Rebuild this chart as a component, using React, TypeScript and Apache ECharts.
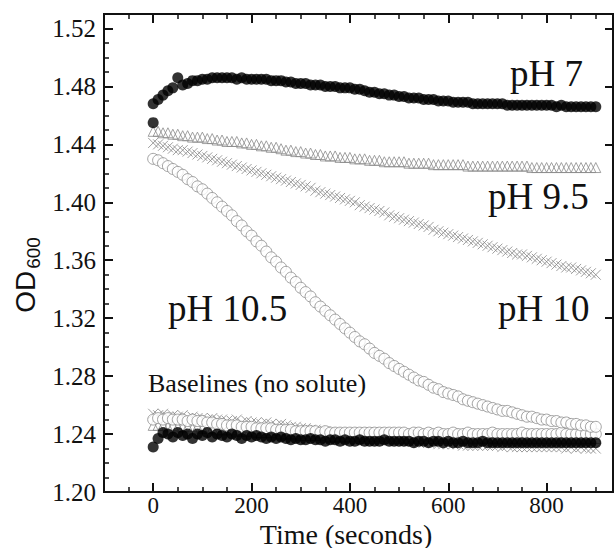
import React, { useEffect, useRef } from "react";
import * as echarts from "echarts";

// Time axis (seconds), sampled every 10 s
const times = [
  0, 10, 20, 30, 40, 50, 60, 70, 80, 90,
  100, 110, 120, 130, 140, 150, 160, 170, 180, 190,
  200, 210, 220, 230, 240, 250, 260, 270, 280, 290,
  300, 310, 320, 330, 340, 350, 360, 370, 380, 390,
  400, 410, 420, 430, 440, 450, 460, 470, 480, 490,
  500, 510, 520, 530, 540, 550, 560, 570, 580, 590,
  600, 610, 620, 630, 640, 650, 660, 670, 680, 690,
  700, 710, 720, 730, 740, 750, 760, 770, 780, 790,
  800, 810, 820, 830, 840, 850, 860, 870, 880, 890, 900,
];

const ph7Start = 1.455;
const ph7 = [
  1.468, 1.471, 1.474, 1.477, 1.479, 1.486, 1.481, 1.482, 1.484, 1.484,
  1.485, 1.485, 1.486, 1.486, 1.486, 1.486, 1.486, 1.485, 1.486, 1.485,
  1.485, 1.485, 1.485, 1.485, 1.484, 1.484, 1.484, 1.483, 1.483, 1.482,
  1.482, 1.482, 1.481, 1.481, 1.481, 1.480, 1.480, 1.480, 1.479, 1.479,
  1.479, 1.478, 1.478, 1.477, 1.476, 1.476, 1.475, 1.475, 1.474, 1.474,
  1.473, 1.473, 1.472, 1.472, 1.472, 1.471, 1.471, 1.471, 1.470, 1.470,
  1.470, 1.469, 1.469, 1.469, 1.469, 1.468, 1.468, 1.468, 1.468, 1.468,
  1.468, 1.468, 1.467, 1.467, 1.467, 1.467, 1.467, 1.467, 1.467, 1.467,
  1.467, 1.467, 1.466, 1.467, 1.466, 1.466, 1.466, 1.466, 1.466, 1.466, 1.466,
];

const ph95 = [
  1.449, 1.449, 1.448, 1.448, 1.447, 1.447, 1.446, 1.446, 1.445, 1.445,
  1.445, 1.444, 1.444, 1.443, 1.443, 1.442, 1.442, 1.442, 1.441, 1.441,
  1.440, 1.440, 1.439, 1.439, 1.438, 1.438, 1.437, 1.436, 1.436, 1.435,
  1.435, 1.434, 1.434, 1.433, 1.433, 1.432, 1.432, 1.432, 1.431, 1.431,
  1.431, 1.430, 1.430, 1.430, 1.429, 1.429, 1.429, 1.428, 1.428, 1.428,
  1.428, 1.428, 1.427, 1.427, 1.427, 1.427, 1.427, 1.426, 1.426, 1.426,
  1.426, 1.426, 1.426, 1.426, 1.425, 1.425, 1.425, 1.425, 1.425, 1.425,
  1.425, 1.425, 1.425, 1.425, 1.425, 1.425, 1.425, 1.424, 1.424, 1.424,
  1.424, 1.424, 1.424, 1.424, 1.424, 1.424, 1.424, 1.424, 1.424, 1.424, 1.424,
];

const ph10 = [
  1.441, 1.440, 1.439, 1.438, 1.437, 1.436, 1.436, 1.435, 1.434, 1.433,
  1.432, 1.431, 1.430, 1.429, 1.428, 1.427, 1.426, 1.425, 1.424, 1.423,
  1.422, 1.421, 1.420, 1.419, 1.418, 1.417, 1.416, 1.415, 1.414, 1.413,
  1.412, 1.411, 1.410, 1.408, 1.407, 1.406, 1.405, 1.404, 1.403, 1.402,
  1.401, 1.400, 1.398, 1.397, 1.396, 1.395, 1.394, 1.393, 1.391, 1.390,
  1.389, 1.388, 1.387, 1.386, 1.385, 1.384, 1.383, 1.381, 1.380, 1.379,
  1.378, 1.377, 1.376, 1.375, 1.374, 1.373, 1.372, 1.371, 1.370, 1.369,
  1.368, 1.367, 1.366, 1.365, 1.364, 1.364, 1.363, 1.362, 1.361, 1.360,
  1.359, 1.358, 1.357, 1.356, 1.355, 1.355, 1.354, 1.353, 1.352, 1.351, 1.350,
];

const ph105 = [
  1.430, 1.429, 1.427, 1.425, 1.423, 1.421, 1.419, 1.416, 1.414, 1.411,
  1.409, 1.406, 1.403, 1.400, 1.397, 1.394, 1.391, 1.387, 1.384, 1.380,
  1.377, 1.373, 1.370, 1.366, 1.362, 1.359, 1.355, 1.352, 1.348, 1.345,
  1.341, 1.338, 1.335, 1.331, 1.328, 1.325, 1.322, 1.319, 1.316, 1.313,
  1.310, 1.307, 1.304, 1.302, 1.299, 1.296, 1.294, 1.292, 1.289, 1.287,
  1.285, 1.283, 1.281, 1.279, 1.277, 1.276, 1.274, 1.272, 1.271, 1.269,
  1.268, 1.267, 1.266, 1.264, 1.263, 1.262, 1.261, 1.260, 1.259, 1.258,
  1.257, 1.256, 1.256, 1.255, 1.254, 1.253, 1.252, 1.252, 1.251, 1.250,
  1.250, 1.249, 1.249, 1.248, 1.248, 1.247, 1.247, 1.246, 1.246, 1.245, 1.245,
];

// Baselines (no solute)
const base7 = [
  1.231, 1.237, 1.241, 1.240, 1.238, 1.241, 1.239, 1.240, 1.237, 1.240,
  1.239, 1.241, 1.238, 1.240, 1.239, 1.238, 1.240, 1.239, 1.237, 1.239,
  1.238, 1.239, 1.238, 1.237, 1.238, 1.237, 1.238, 1.237, 1.236, 1.237,
  1.236, 1.236, 1.237, 1.236, 1.236, 1.235, 1.236, 1.236, 1.235, 1.236,
  1.235, 1.235, 1.236, 1.235, 1.235, 1.235, 1.235, 1.236, 1.235, 1.235,
  1.235, 1.235, 1.235, 1.234, 1.235, 1.235, 1.234, 1.235, 1.235, 1.234,
  1.235, 1.234, 1.234, 1.235, 1.234, 1.234, 1.234, 1.235, 1.234, 1.234,
  1.234, 1.234, 1.234, 1.234, 1.234, 1.234, 1.234, 1.234, 1.234, 1.234,
  1.234, 1.234, 1.234, 1.234, 1.234, 1.234, 1.234, 1.234, 1.234, 1.234, 1.234,
];

const base95 = [
  1.246, 1.246, 1.246, 1.245, 1.246, 1.245, 1.245, 1.245, 1.244, 1.245,
  1.244, 1.244, 1.244, 1.243, 1.243, 1.243, 1.243, 1.242, 1.242, 1.242,
  1.242, 1.241, 1.241, 1.241, 1.241, 1.240, 1.240, 1.240, 1.240, 1.240,
  1.239, 1.239, 1.239, 1.239, 1.239, 1.238, 1.238, 1.238, 1.238, 1.238,
  1.238, 1.237, 1.238, 1.237, 1.237, 1.238, 1.237, 1.237, 1.237, 1.237,
  1.237, 1.237, 1.237, 1.238, 1.237, 1.237, 1.237, 1.237, 1.237, 1.237,
  1.237, 1.237, 1.237, 1.237, 1.237, 1.237, 1.237, 1.237, 1.237, 1.237,
  1.237, 1.237, 1.237, 1.237, 1.237, 1.237, 1.237, 1.237, 1.237, 1.237,
  1.237, 1.237, 1.237, 1.237, 1.237, 1.237, 1.237, 1.237, 1.237, 1.237, 1.237,
];

const base10 = [
  1.254, 1.253, 1.254, 1.252, 1.253, 1.252, 1.253, 1.251, 1.252, 1.251,
  1.251, 1.250, 1.251, 1.250, 1.250, 1.249, 1.249, 1.250, 1.248, 1.249,
  1.248, 1.248, 1.247, 1.248, 1.247, 1.246, 1.247, 1.246, 1.245, 1.245,
  1.244, 1.244, 1.243, 1.243, 1.242, 1.242, 1.241, 1.241, 1.240, 1.240,
  1.239, 1.239, 1.238, 1.238, 1.238, 1.237, 1.237, 1.237, 1.236, 1.236,
  1.236, 1.235, 1.235, 1.235, 1.234, 1.234, 1.234, 1.234, 1.233, 1.233,
  1.233, 1.233, 1.233, 1.232, 1.232, 1.232, 1.232, 1.232, 1.232, 1.232,
  1.232, 1.231, 1.232, 1.231, 1.231, 1.231, 1.231, 1.231, 1.231, 1.231,
  1.231, 1.231, 1.231, 1.231, 1.230, 1.231, 1.230, 1.231, 1.230, 1.230, 1.230,
];

const base105 = [
  1.250, 1.251, 1.250, 1.251, 1.250, 1.250, 1.250, 1.249, 1.250, 1.249,
  1.249, 1.248, 1.248, 1.247, 1.247, 1.246, 1.246, 1.246, 1.245, 1.245,
  1.245, 1.244, 1.244, 1.244, 1.244, 1.243, 1.243, 1.243, 1.243, 1.242,
  1.242, 1.242, 1.242, 1.242, 1.241, 1.242, 1.241, 1.241, 1.241, 1.241,
  1.241, 1.241, 1.241, 1.241, 1.241, 1.241, 1.241, 1.241, 1.241, 1.241,
  1.241, 1.241, 1.240, 1.241, 1.241, 1.240, 1.241, 1.240, 1.241, 1.240,
  1.240, 1.241, 1.240, 1.240, 1.241, 1.240, 1.240, 1.240, 1.240, 1.241,
  1.240, 1.240, 1.240, 1.240, 1.240, 1.241, 1.240, 1.240, 1.240, 1.240,
  1.240, 1.240, 1.240, 1.241, 1.240, 1.240, 1.240, 1.240, 1.240, 1.240, 1.240,
];

// Tick values
const xMajor = [0, 200, 400, 600, 800];
const xMinor = [-50, 50, 100, 150, 250, 300, 350, 450, 500, 550, 650, 700, 750, 850, 900];
const yMajor = [1.2, 1.24, 1.28, 1.32, 1.36, 1.4, 1.44, 1.48, 1.52];
const yMinor = [
  1.21, 1.22, 1.23, 1.25, 1.26, 1.27, 1.29, 1.3, 1.31, 1.33, 1.34, 1.35,
  1.37, 1.38, 1.39, 1.41, 1.42, 1.43, 1.45, 1.46, 1.47, 1.49, 1.5, 1.51,
];

const SERIF = "Liberation Serif";
const SANS = "Liberation Sans";
const INK = "#111";

const pairs = (vals: number[]) => times.map((t, i) => [t, vals[i]]);

const X_MIN = -100;
const X_MAX = 935;
const Y_MIN = 1.2;
const Y_MAX = 1.53;

const lineOn = { show: true, onZero: false, lineStyle: { color: INK, width: 2 } };
const xBase = { type: "value", min: X_MIN, max: X_MAX, splitLine: { show: false }, axisLine: lineOn };
const yBase = { type: "value", min: Y_MIN, max: Y_MAX, splitLine: { show: false }, axisLine: lineOn };

const crossPath = "path://M0,0L10,10M10,0L0,10";

export default function App() {
  const ref = useRef<HTMLDivElement>(null);
  useEffect(() => {
    if (!ref.current) return;
    const chart = echarts.init(ref.current, null, { renderer: "svg" });

    const filledBlack = { symbol: "circle", symbolSize: 11, itemStyle: { color: "#000" } };
    const openCircle = {
      symbol: "circle",
      symbolSize: 11,
      itemStyle: { color: "#fff", borderColor: "#8c8c8c", borderWidth: 1 },
    };
    const openTri = {
      symbol: "triangle",
      symbolSize: 10,
      itemStyle: { color: "rgba(0,0,0,0)", borderColor: "#8a8a8a", borderWidth: 1 },
    };
    const cross = {
      symbol: crossPath,
      symbolSize: 10,
      itemStyle: { color: "rgba(0,0,0,0)", borderColor: "#858585", borderWidth: 1 },
    };

    const mk = (name: string, data: number[][], style: any) => ({
      type: "scatter",
      name,
      data,
      xAxisIndex: 0,
      yAxisIndex: 0,
      silent: true,
      ...style,
    });

    chart.setOption({
      animation: false,
      backgroundColor: "#fff",
      textStyle: { fontFamily: SERIF },
      grid: { left: 104, top: 14, width: 509, height: 478, containLabel: false },
      xAxis: [
        {
          ...xBase,
          position: "bottom",
          axisTick: { show: true, inside: true, length: 9, customValues: xMajor, lineStyle: { color: INK, width: 2 } },
          axisLabel: {
            show: true,
            customValues: xMajor,
            formatter: (v: number) => "{t|" + v + "}",
            rich: { t: { fontFamily: SERIF, fontSize: 23, color: INK, lineHeight: 16 } },
            fontFamily: SERIF,
            fontSize: 23,
            color: INK,
            margin: 5,
          },
        },
        {
          ...xBase,
          position: "bottom",
          axisTick: { show: true, inside: true, length: 5, customValues: xMinor, lineStyle: { color: INK, width: 1.5 } },
          axisLabel: { show: false },
        },
        {
          ...xBase,
          position: "top",
          axisTick: { show: true, inside: true, length: 9, customValues: xMajor, lineStyle: { color: INK, width: 2 } },
          axisLabel: { show: false },
        },
        {
          ...xBase,
          position: "top",
          axisTick: { show: true, inside: true, length: 5, customValues: xMinor, lineStyle: { color: INK, width: 1.5 } },
          axisLabel: { show: false },
        },
      ],
      yAxis: [
        {
          ...yBase,
          position: "left",
          axisTick: { show: true, inside: true, length: 9, customValues: yMajor, lineStyle: { color: INK, width: 2 } },
          axisLabel: {
            show: true,
            customValues: yMajor,
            formatter: (v: number) => "{t|" + v.toFixed(2) + "}",
            rich: { t: { fontFamily: SERIF, fontSize: 25, color: INK, lineHeight: 22 } },
            fontFamily: SERIF,
            fontSize: 25,
            color: INK,
            margin: 8,
          },
        },
        {
          ...yBase,
          position: "left",
          axisTick: { show: true, inside: true, length: 5, customValues: yMinor, lineStyle: { color: INK, width: 1.5 } },
          axisLabel: { show: false },
        },
        {
          ...yBase,
          position: "right",
          axisTick: { show: true, inside: true, length: 8, customValues: yMajor, lineStyle: { color: INK, width: 2 } },
          axisLabel: { show: false },
        },
      ],
      series: [
        mk("Baseline pH 10", pairs(base10), cross),
        mk("Baseline pH 9.5", pairs(base95), openTri),
        mk("Baseline pH 10.5", pairs(base105), openCircle),
        mk("Baseline pH 7", pairs(base7), filledBlack),
        mk("pH 10", pairs(ph10), cross),
        mk("pH 9.5", pairs(ph95), openTri),
        mk("pH 10.5", pairs(ph105), openCircle),
        mk("pH 7", [[0, ph7Start], ...pairs(ph7)], filledBlack),
      ],
      graphic: [
        {
          type: "text",
          x: 510,
          y: 73,
          style: { text: "pH 7", fontFamily: SERIF, fontSize: 37, fill: INK, align: "left", verticalAlign: "middle" },
        },
        {
          type: "text",
          x: 488,
          y: 196,
          style: { text: "pH 9.5", fontFamily: SERIF, fontSize: 37, fill: INK, align: "left", verticalAlign: "middle" },
        },
        {
          type: "text",
          x: 498,
          y: 308,
          style: { text: "pH 10", fontFamily: SERIF, fontSize: 37, fill: INK, align: "left", verticalAlign: "middle" },
        },
        {
          type: "text",
          x: 168,
          y: 308,
          style: { text: "pH 10.5", fontFamily: SERIF, fontSize: 37, fill: INK, align: "left", verticalAlign: "middle" },
        },
        {
          type: "text",
          x: 148,
          y: 383,
          style: {
            text: "Baselines (no solute)",
            fontFamily: SERIF,
            fontSize: 26,
            fill: INK,
            align: "left",
            verticalAlign: "middle",
          },
        },
        {
          type: "text",
          x: 346,
          y: 534,
          style: {
            text: "Time (seconds)",
            fontFamily: SERIF,
            fontSize: 28,
            lineHeight: 20,
            fill: INK,
            align: "center",
            verticalAlign: "middle",
          },
        },
        {
          type: "text",
          x: 25,
          y: 275,
          rotation: Math.PI / 2,
          style: {
            text: "{a|OD}{b|600}",
            align: "center",
            verticalAlign: "middle",
            rich: {
              a: { fontFamily: SANS, fontSize: 28, fill: INK, verticalAlign: "bottom" },
              b: { fontFamily: SANS, fontSize: 19, fill: INK, verticalAlign: "bottom", padding: [0, 0, -4, 2] },
            },
          },
        },
      ],
    });
    return () => chart.dispose();
  }, []);
  return (
    <div
      ref={ref}
      style={{ position: "fixed", left: 0, top: 0, width: 615, height: 548, background: "#fff" }}
    />
  );
}
